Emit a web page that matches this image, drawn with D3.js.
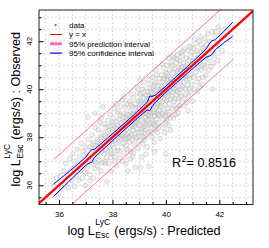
<!DOCTYPE html>
<html>
<head>
<meta charset="utf-8">
<script src="https://cdn.jsdelivr.net/npm/d3@7"></script>
<style>
  body { margin: 0; background: #fff; }
  svg { display: block; font-family: "Liberation Sans", Arial, sans-serif; }
</style>
</head>
<body>
<svg id="chart" width="269" height="248"></svg>
<script>
// predicted vs observed
const points = [
  [35.82,35.95],[35.9,36.3],[35.97,35.6],[36.05,36.4],[36.1,35.85],[36.18,36.6],
  [36.22,36.0],[36.25,36.9],[36.3,36.45],[36.35,35.9],[36.4,37.1],[36.42,36.6],[36.48,36.2],[36.52,37.3],[36.55,36.75],[36.58,35.95],
  [36.62,37.0],[36.65,36.4],[36.68,37.5],[36.7,36.85],[36.74,36.2],[36.77,37.2],[36.8,36.6],[36.83,37.75],[36.85,36.95],[36.88,36.3],[36.9,37.4],[36.93,36.8],[36.95,37.1],[36.97,36.0],[36.99,37.6],[36.98,36.55],
  [37.02,37.3],[37.05,36.7],[37.08,38.83],[37.1,37.9],[37.12,37.05],[37.14,36.45],[37.17,37.6],[37.2,37.2],[37.22,36.9],[37.24,38.1],[37.26,37.45],[37.28,36.3],[37.3,37.8],[37.32,37.0],[37.34,36.7],[37.35,38.4],[37.37,37.35],[37.38,37.65],[37.39,36.95],[37.36,39.0],[37.25,37.7],[37.15,36.2],
  [37.42,37.9],[37.44,37.2],[37.45,36.8],[37.47,38.3],[37.49,37.5],[37.5,37.05],[37.52,38.6],[37.54,37.75],[37.56,36.6],[37.57,38.0],[37.59,37.4],[37.6,37.95],[37.62,36.95],[37.64,39.26],[37.65,38.2],[37.66,37.6],[37.68,37.3],[37.69,38.55],[37.7,37.85],[37.72,36.9],[37.73,38.1],[37.75,37.5],[37.76,38.4],[37.78,37.15],[37.79,36.14],[37.46,37.65],[37.58,38.8],[37.71,37.0],
  [37.81,38.0],[37.82,37.4],[37.84,38.7],[37.85,37.8],[37.87,36.9],[37.88,38.3],[37.9,37.6],[37.91,38.95],[37.92,37.15],[37.94,38.1],[37.95,37.85],[37.96,36.6],[37.98,38.5],[37.99,37.7],[38.0,38.25],[38.02,37.3],[38.03,38.8],[38.04,38.05],[38.06,37.55],[38.07,39.2],[38.08,37.9],[38.1,38.4],[38.11,37.0],[38.12,38.15],[38.14,38.65],[38.15,37.75],[38.16,36.8],[38.17,38.35],[38.18,37.45],[38.19,39.0],[38.2,38.0],[37.86,38.45],[37.93,37.35],[38.01,38.6],[38.09,37.2],[38.13,39.4],
  [38.21,38.5],[38.22,37.8],[38.23,39.1],[38.24,38.2],[38.25,37.4],[38.26,38.75],[38.27,38.0],[38.28,37.15],[38.3,38.45],[38.31,39.3],[38.32,37.95],[38.33,38.6],[38.34,37.6],[38.35,38.3],[38.36,39.55],[38.37,38.05],[38.38,37.0],[38.39,38.85],[38.4,38.4],[38.41,37.75],[38.42,39.0],[38.43,38.2],[38.44,37.35],[38.45,38.65],[38.46,38.0],[38.47,39.25],[38.48,37.9],[38.49,38.5],[38.5,36.9],[38.51,38.8],[38.52,38.3],[38.53,37.65],[38.54,39.4],[38.55,38.1],[38.56,38.95],[38.57,37.5],[38.58,38.55],[38.59,38.0],[38.29,38.9],[38.34,38.1],[38.44,39.7],[38.5,37.95],[38.53,38.7],[38.57,36.6],
  [38.61,38.9],[38.62,38.2],[38.63,39.5],[38.64,38.6],[38.65,37.8],[38.66,39.1],[38.67,38.4],[38.68,37.4],[38.69,38.85],[38.7,39.8],[38.71,38.1],[38.72,38.7],[38.73,37.9],[38.74,39.3],[38.75,38.5],[38.76,37.2],[38.77,39.0],[38.78,38.3],[38.79,39.65],[38.8,38.8],[38.81,37.7],[38.82,38.95],[38.83,38.45],[38.84,39.4],[38.85,38.15],[38.86,36.75],[38.87,38.65],[38.88,39.2],[38.89,37.95],[38.9,38.9],[38.91,38.35],[38.92,39.85],[38.93,38.6],[38.94,37.55],[38.95,39.05],[38.96,38.2],[38.97,38.75],[38.98,39.5],[38.99,37.85],[38.64,38.0],[38.68,39.35],[38.72,38.5],[38.76,38.95],[38.8,37.35],[38.84,38.55],[38.88,38.0],[38.92,38.8],[38.96,39.25],[38.66,37.1],[38.9,40.1],
  [39.01,39.2],[39.02,38.5],[39.03,39.8],[39.04,38.9],[39.05,36.75],[39.06,39.45],[39.07,38.2],[39.08,39.1],[39.09,38.7],[39.1,37.17],[39.11,40.0],[39.12,39.3],[39.13,38.4],[39.14,38.95],[39.15,39.65],[39.16,38.0],[39.17,39.15],[39.18,38.6],[39.19,40.3],[39.2,39.4],[39.21,37.9],[39.22,39.0],[39.23,38.8],[39.24,39.75],[39.25,38.3],[39.26,39.2],[39.27,38.55],[39.28,40.05],[39.29,39.5],[39.3,37.6],[39.31,38.95],[39.32,39.35],[39.33,38.2],[39.34,39.9],[39.35,38.75],[39.36,40.4],[39.37,36.8],[39.38,39.1],[39.39,38.5],[39.04,39.55],[39.08,38.35],[39.12,38.05],[39.16,39.85],[39.2,38.45],[39.24,39.05],[39.28,38.7],[39.32,39.6],[39.36,38.9],[39.02,40.4],[39.14,37.7],[39.22,38.15],[39.3,39.25],[39.38,39.7],[39.26,37.3],
  [39.41,39.6],[39.42,38.9],[39.43,40.2],[39.44,39.3],[39.45,38.4],[39.46,39.85],[39.47,39.0],[39.48,38.0],[39.49,39.5],[39.5,40.5],[39.51,38.7],[39.52,39.4],[39.53,38.55],[39.54,40.0],[39.55,39.15],[39.56,37.8],[39.57,39.7],[39.58,38.9],[39.59,40.3],[39.6,39.55],[39.61,38.3],[39.62,39.25],[39.63,39.95],[39.64,38.75],[39.65,39.6],[39.66,40.6],[39.67,39.0],[39.68,38.2],[39.69,39.8],[39.7,39.35],[39.71,40.15],[39.72,38.6],[39.73,39.7],[39.74,39.1],[39.75,40.45],[39.76,38.9],[39.77,39.5],[39.78,37.95],[39.79,40.0],[39.44,39.9],[39.48,38.6],[39.52,40.1],[39.56,39.05],[39.6,38.5],[39.64,40.25],[39.68,39.4],[39.72,38.95],[39.76,39.85],[39.46,38.2],[39.54,39.65],[39.62,40.8],[39.7,38.4],[39.78,39.3],[39.58,37.4],
  [39.81,40.0],[39.82,39.3],[39.83,40.6],[39.84,39.7],[39.85,38.8],[39.86,40.3],[39.87,39.5],[39.88,38.4],[39.89,39.95],[39.9,40.9],[39.91,39.1],[39.92,39.8],[39.93,38.9],[39.94,40.45],[39.95,39.6],[39.96,38.2],[39.97,40.15],[39.98,39.35],[39.99,40.7],[40.0,37.3],[40.01,39.9],[40.02,38.7],[40.03,40.4],[40.04,39.55],[40.05,41.0],[40.06,39.2],[40.07,40.1],[40.08,38.95],[40.09,40.55],[40.1,39.75],[40.11,38.5],[40.12,40.25],[40.13,39.4],[40.14,40.8],[40.15,39.95],[40.16,38.8],[40.17,40.45],[40.18,39.6],[40.19,41.1],[39.84,40.1],[39.88,39.0],[39.92,40.4],[39.96,39.75],[40.0,38.6],[40.04,40.65],[40.08,39.85],[40.12,39.05],[40.16,40.3],[39.86,41.05],[39.98,38.9],[40.1,41.3],[40.18,38.3],
  [40.21,40.4],[40.22,39.7],[40.23,41.0],[40.24,40.1],[40.25,39.2],[40.26,40.7],[40.27,39.9],[40.28,38.8],[40.29,40.35],[40.3,41.3],[40.31,39.5],[40.32,40.2],[40.33,39.3],[40.34,40.85],[40.35,40.0],[40.36,38.95],[40.37,40.55],[40.38,39.75],[40.39,41.1],[40.4,40.3],[40.41,39.2],[40.42,40.75],[40.43,39.9],[40.44,41.45],[40.45,40.45],[40.46,39.0],[40.47,40.1],[40.48,40.9],[40.49,39.6],[40.5,40.55],[40.51,39.85],[40.52,41.2],[40.53,40.3],[40.54,39.35],[40.55,40.8],[40.56,40.0],[40.57,41.5],[40.58,39.7],[40.59,40.6],[40.26,41.35],[40.34,39.6],[40.42,41.25],[40.5,39.3],[40.58,40.95],[40.3,40.0],[40.46,40.65],
  [40.61,40.9],[40.62,40.1],[40.63,41.4],[40.64,40.5],[40.65,39.6],[40.66,41.1],[40.67,40.3],[40.68,39.3],[40.69,40.75],[40.7,41.7],[40.72,40.0],[40.73,40.95],[40.74,39.8],[40.76,41.3],[40.77,40.55],[40.78,39.45],[40.8,41.0],[40.81,40.2],[40.82,41.6],[40.84,40.8],[40.85,39.7],[40.86,41.2],[40.88,40.45],[40.89,41.8],[40.9,40.9],[40.92,39.9],[40.93,41.35],[40.94,40.6],[40.96,41.05],[40.97,40.2],[40.98,41.55],[40.99,39.5],[40.64,41.6],[40.71,40.6],[40.79,40.4],[40.87,40.0],[40.95,41.75],[40.83,39.1],
  [41.01,41.2],[41.03,40.5],[41.05,41.7],[41.06,40.9],[41.08,40.0],[41.1,41.45],[41.12,40.7],[41.13,41.9],[41.15,41.1],[41.17,40.3],[41.18,41.6],[41.2,40.9],[41.22,41.3],[41.23,40.45],[41.25,42.0],[41.27,41.1],[41.28,40.1],[41.3,41.55],[41.32,40.8],[41.33,41.85],[41.35,41.3],[41.37,40.5],[41.38,41.7],[41.39,41.0],[41.07,42.1],[41.19,39.9],[41.29,42.2],[41.36,40.2],
  [41.42,41.6],[41.44,40.9],[41.46,42.1],[41.48,41.3],[41.5,40.6],[41.52,41.85],[41.55,41.1],[41.57,42.3],[41.6,41.5],[41.62,40.8],[41.64,42.0],[41.66,41.3],[41.69,41.75],[41.7,40.95],[41.72,42.4],[41.74,40.0],[41.76,41.6],[41.78,41.1],
  [41.82,42.2],[41.85,41.4],[41.87,42.4],[41.9,41.9],[41.94,41.2],[41.97,42.6],[42.0,41.8],[42.05,42.3],[42.1,41.6],[42.18,42.5],[42.3,42.1],[42.45,42.6]
];

// confidence band, offsets from y = x
const ciX  = [35.8, 36.2, 36.6, 37.0, 37.12, 37.22, 37.32, 37.8, 38.2, 38.6, 39.0, 39.3, 39.4, 39.48, 39.6, 40.0, 40.4, 40.8, 41.2, 41.5, 41.62, 41.72, 41.85, 42.2, 42.5];
const ciLo = [-0.26,-0.22,-0.19,-0.17,-0.2,-0.27,-0.17,-0.15,-0.14,-0.14,-0.14,-0.16,-0.3,-0.2,-0.15,-0.13,-0.13,-0.14,-0.15,-0.17,-0.24,-0.28,-0.2,-0.24,-0.3];
const ciHi = [0.25,0.21,0.18,0.17,0.24,0.26,0.17,0.15,0.14,0.13,0.14,0.16,0.32,0.22,0.15,0.13,0.13,0.14,0.15,0.17,0.26,0.3,0.21,0.24,0.29];

// prediction band
const piRange = [35.8, 42.52];
const piHalf = 1.27;

const xTicks = [36, 38, 40, 42];
const yTicks = [36, 38, 40, 42];
const legendLabels = ['data', 'y = x', '95% prediction interval', '95% confidence interval'];
const r2Text = '0.8516';

const svg = d3.select('#chart');
const plot = {left: 39, top: 10, right: 253, bottom: 204.5};

const x = d3.scaleLinear().domain([35.25, 43.26]).range([plot.left, plot.right]);
const y = d3.scaleLinear().domain([35.2, 43.3]).range([plot.bottom, plot.top]);

svg.append('defs').append('clipPath').attr('id', 'clip')
  .append('rect')
  .attr('x', plot.left).attr('y', plot.top)
  .attr('width', plot.right - plot.left).attr('height', plot.bottom - plot.top);

// grid
const minor = d3.range(35.5, 43.3, 0.5);
const grid = svg.append('g').attr('stroke', '#cfcfcf').attr('stroke-width', 0.8).attr('stroke-dasharray', '2,2');
grid.selectAll('.gx').data(minor.filter(v => x(v) > plot.left + 1 && x(v) < plot.right - 1)).enter()
  .append('line')
  .attr('x1', d => x(d)).attr('x2', d => x(d))
  .attr('y1', plot.top).attr('y2', plot.bottom);
grid.selectAll('.gy').data(minor.filter(v => y(v) < plot.bottom - 1 && y(v) > plot.top + 1)).enter()
  .append('line')
  .attr('y1', d => y(d)).attr('y2', d => y(d))
  .attr('x1', plot.left).attr('x2', plot.right);

const inner = svg.append('g').attr('clip-path', 'url(#clip)');

inner.selectAll('circle').data(points).enter()
  .append('circle')
  .attr('cx', d => x(d[0]))
  .attr('cy', d => y(d[1]))
  .attr('r', 2.4)
  .attr('fill', '#d8d8d8')
  .attr('fill-opacity', 0.35)
  .attr('stroke', '#aaaaaa')
  .attr('stroke-opacity', 0.6)
  .attr('stroke-width', 0.6);

const line = d3.line().x(d => x(d[0])).y(d => y(d[1]));

// prediction interval
[-piHalf, piHalf].forEach(off => {
  inner.append('path')
    .attr('d', line(piRange.map(v => [v, v + off])))
    .attr('fill', 'none').attr('stroke', '#ff6eb4').attr('stroke-width', 1);
});

// confidence interval
[ciLo, ciHi].forEach(offs => {
  inner.append('path')
    .attr('d', line(ciX.map((v, i) => [v, v + offs[i]])))
    .attr('fill', 'none').attr('stroke', '#0000ff').attr('stroke-width', 1);
});

// y = x
inner.append('path')
  .attr('d', line([[34, 34], [44, 44]]))
  .attr('stroke', '#ff0000').attr('stroke-width', 2.2);

// ticks
const minorTicks = d3.range(35.5, 43.3, 0.5);
svg.append('g')
  .attr('transform', `translate(0,${plot.bottom})`)
  .call(d3.axisBottom(x).tickValues(minorTicks.filter(v => !xTicks.includes(v) && v < 43.2)).tickSize(-2.5).tickFormat(''))
  .call(g => g.select('.domain').remove());
svg.append('g')
  .attr('transform', `translate(0,${plot.bottom})`)
  .call(d3.axisBottom(x).tickValues(xTicks).tickSize(-4.5).tickPadding(7.3))
  .call(g => g.select('.domain').remove())
  .call(g => g.selectAll('text').attr('font-size', 8).attr('font-family', '"Liberation Sans", Arial, sans-serif').attr('fill', '#000'));

svg.append('g')
  .attr('transform', `translate(${plot.left},0)`)
  .call(d3.axisLeft(y).tickValues(minorTicks.filter(v => !yTicks.includes(v) && v > 35.3)).tickSize(-2.5).tickFormat(''))
  .call(g => g.select('.domain').remove());
svg.append('g')
  .attr('transform', `translate(${plot.left},0)`)
  .call(d3.axisLeft(y).tickValues(yTicks).tickSize(-4.5).tickFormat(''))
  .call(g => g.select('.domain').remove());
svg.append('g').selectAll('text').data(yTicks).enter()
  .append('text')
  .attr('transform', d => `translate(32,${y(d)}) rotate(-90)`)
  .attr('text-anchor', 'middle')
  .attr('font-size', 8)
  .text(d => d);

// frame
svg.append('rect')
  .attr('x', plot.left).attr('y', plot.top)
  .attr('width', plot.right - plot.left).attr('height', plot.bottom - plot.top)
  .attr('fill', 'none').attr('stroke', '#222').attr('stroke-width', 1);

// legend
const lg = svg.append('g');
const lgY = [28, 37.3, 46.6, 55.9];
lg.append('circle').attr('cx', 55.7).attr('cy', lgY[0] - 2.8).attr('r', 1.1).attr('fill', '#666');
[['#ff0000', 1], ['#ff6eb4', 3], ['#0000ff', 1.2]].forEach((s, i) => {
  lg.append('line')
    .attr('x1', 50).attr('x2', 62)
    .attr('y1', lgY[i + 1] - 2.8).attr('y2', lgY[i + 1] - 2.8)
    .attr('stroke', s[0]).attr('stroke-width', s[1]);
});
lg.selectAll('text').data(legendLabels).enter()
  .append('text')
  .attr('x', 69).attr('y', (d, i) => lgY[i])
  .attr('font-size', 8)
  .text(d => d);

// label with stacked super/subscript
function lumLabel(g, tail) {
  const t1 = g.append('text').attr('font-size', 12.6).text('log L');
  const w1 = t1.node().getComputedTextLength();
  const sup = g.append('text').attr('font-size', 8.6).attr('x', w1 + 0.5).attr('y', -10).text('LyC');
  const sub = g.append('text').attr('font-size', 8.6).attr('x', w1 + 0.5).attr('y', 3).text('Esc');
  const w2 = Math.max(sup.node().getComputedTextLength(), sub.node().getComputedTextLength());
  const t3 = g.append('text').attr('font-size', 12.6).attr('x', w1 + w2 + 1).attr('xml:space', 'preserve').text(tail);
  return w1 + w2 + 1 + t3.node().getComputedTextLength();
}

const xt = svg.append('g');
const xw = lumLabel(xt, ' (ergs/s) : Predicted');
xt.attr('transform', `translate(${(plot.left + plot.right) / 2 - xw / 2 - 2},235)`);

const yt = svg.append('g');
const yw = lumLabel(yt, ' (ergs/s) : Observed');
yt.attr('transform', `translate(20,${(plot.top + plot.bottom) / 2 + yw / 2 + 2}) rotate(-90)`);

// R squared
const rt = svg.append('g');
const rA = rt.append('text').attr('font-size', 12.6).text('R');
const rw = rA.node().getComputedTextLength();
rt.append('text').attr('font-size', 9).attr('x', rw + 0.3).attr('y', -5).text('2');
rt.append('text').attr('font-size', 12.6).attr('x', rw + 5.5).attr('xml:space', 'preserve').text('= ' + r2Text);
rt.attr('transform', 'translate(172,167)');
</script>
</body>
</html>
